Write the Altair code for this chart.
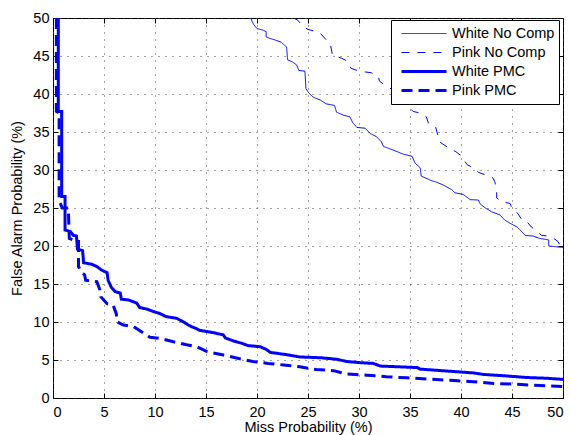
import altair as alt
import pandas as pd

series_names = ["White No Comp", "Pink No Comp", "White PMC", "Pink PMC"]

white_nocomp_miss = [19.4, 19.5, 19.7, 20.0, 20.6, 20.9, 20.9, 21.3, 21.8, 22.4, 22.7, 22.9, 23.0, 23.5,
                     23.9, 24.1, 24.7, 24.8, 25.1, 25.5, 26.2, 26.8, 27.6, 27.8, 28.5, 29.1, 29.4, 29.8,
                     30.6, 31.1, 31.7, 32.2, 32.4, 33.4, 34.3, 35.2, 35.5, 36.0, 36.1, 37.1, 37.6, 38.3,
                     39.1, 39.4, 40.2, 40.9, 41.7, 41.9, 42.4, 43.0, 43.8, 44.3, 44.8, 45.5, 45.8, 46.3,
                     47.1, 47.7, 48.6, 48.6, 50.0]
white_nocomp_fa = [50.0, 49.6, 49.1, 48.6, 48.4, 48.2, 47.5, 47.3, 47.1, 46.8, 46.4, 46.2, 44.5, 44.2,
                   43.8, 43.1, 43.0, 40.7, 40.1, 39.6, 39.2, 38.7, 38.5, 37.6, 37.2, 37.0, 36.2, 35.6,
                   35.5, 34.8, 34.4, 33.7, 33.1, 32.6, 32.1, 31.8, 30.9, 30.3, 29.2, 28.6, 28.4, 28.0,
                   27.4, 27.0, 26.8, 26.1, 26.05, 25.5, 25.0, 24.5, 24.1, 23.4, 23.0, 22.5, 22.1, 21.4,
                   21.3, 21.0, 20.8, 20.0, 19.8]

pink_nocomp_miss = [23.6, 24.0, 24.5, 25.0, 25.8, 26.2, 26.8, 27.2, 27.4, 28.3, 28.9, 29.2, 29.8, 30.6,
                    31.2, 31.9, 32.0, 32.7, 33.4, 34.2, 34.9, 35.3, 36.0, 36.6, 36.8, 37.5, 37.9, 38.8,
                    39.5, 40.0, 40.6, 41.2, 41.7, 42.3, 43.1, 43.3, 43.5, 43.5, 44.1, 44.8, 45.1, 45.5,
                    46.0, 46.4, 46.9, 47.3, 47.9, 48.6, 49.2, 49.5, 49.8, 50.0]
pink_nocomp_fa = [50.0, 49.7, 48.9, 48.5, 48.2, 48.0, 47.1, 46.5, 45.1, 44.7, 44.3, 43.4, 43.1, 42.9,
                  42.8, 42.3, 41.7, 41.0, 40.5, 40.1, 38.3, 37.7, 37.5, 37.0, 36.2, 35.7, 33.7, 32.9,
                  32.4, 31.9, 30.7, 30.3, 29.7, 29.4, 29.0, 28.5, 27.4, 26.3, 25.8, 25.6, 24.7, 24.4,
                  23.4, 23.3, 22.5, 22.1, 21.4, 21.3, 20.9, 20.6, 19.9, 19.8]

white_pmc_miss = [0.52, 0.52, 0.85, 0.85, 1.18, 1.18, 1.7, 2.0, 2.3, 2.4, 2.9, 3.0, 3.8, 4.3, 4.8, 5.3,
                  5.4, 5.7, 6.1, 6.6, 6.7, 7.4, 8.2, 8.5, 9.2, 9.8, 10.5, 11.1, 12.1, 12.8, 13.4, 14.1,
                  14.4, 15.7, 16.7, 16.9, 17.7, 18.5, 19.1, 20.3, 20.9, 21.3, 22.9, 24.2, 26.2, 27.8,
                  28.8, 30.1, 31.4, 32.1, 34.0, 35.7, 36.0, 38.6, 41.2, 42.2, 44.5, 46.4, 48.4, 50.0]
white_pmc_fa = [50.0, 37.7, 37.7, 26.5, 26.5, 22.1, 21.9, 21.4, 21.3, 19.6, 19.4, 17.8, 17.6, 17.3,
                16.8, 16.5, 15.5, 14.6, 14.0, 13.8, 13.0, 12.9, 12.5, 11.9, 11.7, 11.4, 11.1, 10.7,
                10.5, 10.0, 9.5, 9.1, 8.9, 8.6, 8.3, 7.9, 7.5, 7.2, 6.9, 6.75, 6.4, 6.0, 5.7, 5.4,
                5.3, 5.1, 4.8, 4.65, 4.55, 4.2, 4.1, 4.0, 3.8, 3.55, 3.3, 3.1, 2.9, 2.7, 2.6, 2.45]

pink_pmc_miss = [0.33, 0.33, 0.6, 0.6, 0.9, 1.5, 1.6, 2.4, 2.5, 2.5, 2.8, 3.1, 3.2, 4.3, 4.6, 4.7,
                 5.3, 5.9, 6.2, 6.3, 6.9, 7.9, 8.9, 9.5, 10.5, 11.8, 13.1, 14.1, 15.1, 16.7, 18.2,
                 19.6, 21.1, 22.6, 24.2, 25.8, 27.5, 28.8, 30.8, 32.7, 34.7, 36.6, 39.3, 41.2, 43.2,
                 45.1, 46.8, 48.4, 50.0]
pink_pmc_fa = [50.0, 37.7, 37.5, 26.0, 25.0, 25.0, 21.0, 20.6, 20.6, 17.3, 16.5, 16.2, 15.5, 15.3,
               14.2, 13.3, 12.4, 12.2, 11.1, 10.0, 9.6, 9.4, 8.5, 8.0, 7.85, 7.4, 7.0, 6.75, 6.1,
               5.65, 5.2, 4.8, 4.55, 4.35, 4.1, 3.75, 3.6, 3.15, 3.0, 2.8, 2.65, 2.5, 2.3, 2.15,
               1.9, 1.85, 1.7, 1.6, 1.5]

tick_values = [0, 5, 10, 15, 20, 25, 30, 35, 40, 45, 50]

rows = []
for name, xs, ys in [
    (series_names[0], white_nocomp_miss, white_nocomp_fa),
    (series_names[1], pink_nocomp_miss, pink_nocomp_fa),
    (series_names[2], white_pmc_miss, white_pmc_fa),
    (series_names[3], pink_pmc_miss, pink_pmc_fa),
]:
    for i, (x, y) in enumerate(zip(xs, ys)):
        rows.append({"series": name, "miss": x, "fa": y, "idx": i})
df = pd.DataFrame(rows)

FONT = "Liberation Sans"
FS = 14.5
x_scale = alt.Scale(domain=[0, 50], nice=False, zero=False)
y_scale = alt.Scale(domain=[0, 50], nice=False, zero=False)

common_axis = dict(values=tick_values, offset=-5, tickSize=5, domain=False,
                   tickColor="black", tickWidth=1, labelFont=FONT, labelFontSize=FS,
                   labelColor="black", titleFont=FONT, titleFontSize=FS,
                   titleFontWeight="normal", titleColor="black")

lines = alt.Chart(df).mark_line(clip=True, strokeCap="butt", strokeJoin="miter").encode(
    x=alt.X("miss:Q", scale=x_scale,
            axis=alt.Axis(orient="bottom", title="Miss Probability (%)", grid=True,
                          gridDash=[1, 6], gridColor="#444444", gridWidth=1,
                          labelPadding=7, titlePadding=2, **common_axis)),
    y=alt.Y("fa:Q", scale=y_scale,
            axis=alt.Axis(orient="left", title="False Alarm Probability (%)", grid=True,
                          gridDash=[1, 6], gridColor="#444444", gridWidth=1,
                          labelPadding=4, titlePadding=8, **common_axis)),
    color=alt.Color("series:N", scale=alt.Scale(domain=series_names, range=["#0000ff"] * 4),
                    title=None),
    strokeDash=alt.StrokeDash("series:N",
                              scale=alt.Scale(domain=series_names,
                                              range=[[1, 0], [8, 8], [1, 0], [11, 6]]),
                              title=None),
    strokeWidth=alt.StrokeWidth("series:N",
                                scale=alt.Scale(type="ordinal", domain=series_names,
                                                range=[1, 1, 3, 3]),
                                title=None),
    order=alt.Order("idx:Q"),
)

frame = alt.Chart(df).mark_point(opacity=0).encode(
    x=alt.X("miss:Q", scale=x_scale,
            axis=alt.Axis(orient="top", title=None, labels=False, grid=False, **common_axis)),
    y=alt.Y("fa:Q", scale=y_scale,
            axis=alt.Axis(orient="right", title=None, labels=False, grid=False, **common_axis)),
)

chart = alt.layer(frame, lines).resolve_axis(x="independent", y="independent").properties(
    width=510, height=380,
    autosize=alt.AutoSizeParams(type="none"),
    padding={"left": 53, "top": 18, "right": 8, "bottom": 37},
    background="white",
).configure_view(stroke="black", strokeWidth=1).configure_legend(
    orient="none", legendX=338, legendY=2,
    strokeColor="black", fillColor="white", padding=4, cornerRadius=0,
    symbolType="stroke", symbolSize=2025, symbolOffset=5,
    labelOffset=4, labelFont=FONT, labelFontSize=FS, labelColor="black",
    rowPadding=0, clipHeight=19,
)

chart.save("out.html", embed_options={"renderer": "svg", "actions": False})
